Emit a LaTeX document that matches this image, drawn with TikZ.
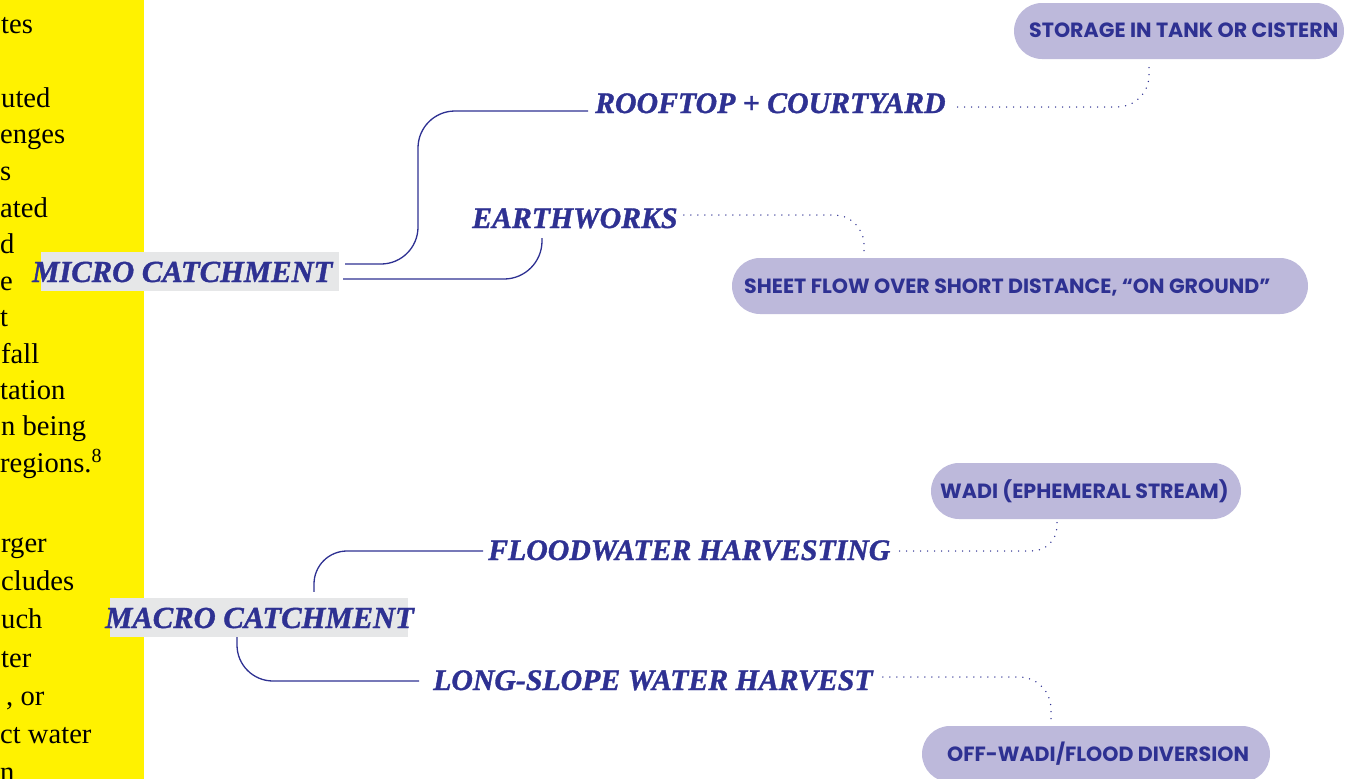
\documentclass[tikz,border=0pt]{standalone}
\usepackage{fontspec}
\setmainfont{Liberation Serif}
\newfontfamily\lblfont[BoldItalicFeatures={FakeBold=1.2}]{Liberation Serif}
\newfontfamily\pillfont{Poppins}
\definecolor{dblue}{HTML}{2E3192}
\definecolor{lav}{HTML}{BDB9DB}
\definecolor{lgray}{HTML}{E6E7E8}
\definecolor{yel}{HTML}{FFF200}
\begin{document}
\begin{tikzpicture}[x=1pt,y=1pt,
  lbl/.style={inner sep=0pt, anchor=base west, text=dblue, font=\lblfont\fontsize{29.8}{30}\selectfont\bfseries\itshape},
  biglbl/.style={lbl, font=\lblfont\fontsize{30.6}{31}\selectfont\bfseries\itshape},
  bodytxt/.style={inner sep=0pt, anchor=base west, text=black, font=\fontsize{28.6}{29}\selectfont},
  pill/.style={fill=lav, rounded corners=28pt, minimum height=56pt, inner sep=0pt},
  pilltext/.style={inner sep=0pt, anchor=base west, text=dblue, font=\pillfont\fontsize{20.6}{21}\selectfont\bfseries},
  conn/.style={draw=dblue, line width=1.3pt},
  dots/.style={draw=dblue, line width=1.5pt, line cap=round, dash pattern=on 0pt off 7pt},
  greybox/.style={fill=lgray, inner sep=0pt, minimum height=39pt, minimum width=298pt}]
\useasboundingbox (0,0) rectangle (1353,-779);
\clip (0,0) rectangle (1353,-779);
\fill[yel] (0,0) rectangle (144,-779);
% body text fragments
\node[bodytxt] (b1) at (1,-33) {tes};
\node[bodytxt] (b2) at (1,-107) {uted};
\node[bodytxt] (b3) at (0,-143) {enges};
\node[bodytxt] (b4) at (0,-180) {s};
\node[bodytxt] (b5) at (0,-217) {ated};
\node[bodytxt] (b6) at (0,-253) {d};
\node[bodytxt] (b7) at (0,-290) {e};
\node[bodytxt] (b8) at (0,-326) {t};
\node[bodytxt] (b9) at (1,-363) {fall};
\node[bodytxt] (b10) at (0,-399) {tation};
\node[bodytxt] (b11) at (1,-435) {n being};
\node[bodytxt] (b12) at (0,-472) {regions.\textsuperscript{8}};
\node[bodytxt] (b13) at (1,-552) {rger};
\node[bodytxt] (b14) at (1,-590) {cludes};
\node[bodytxt] (b15) at (1,-628) {uch};
\node[bodytxt] (b16) at (1,-667) {ter};
\node[bodytxt] (b17) at (6,-705) {, or};
\node[bodytxt] (b18) at (0,-743) {ct water};
\node[bodytxt] (b19) at (0,-781) {n};
% main labels
\node[greybox] (microbox) at (190,-271.5) {};
\node[biglbl] (micro) at (32,-282) {MICRO CATCHMENT};
\node[greybox] (macbox) at (259,-617.5) {};
\node[biglbl] (macro) at (105,-628) {MACRO CATCHMENT};
% branch labels
\node[lbl] (roof) at (595,-113) {ROOFTOP + COURTYARD};
\node[lbl] (earth) at (472,-228) {EARTHWORKS};
\node[lbl] (flood) at (488,-560) {FLOODWATER HARVESTING};
\node[lbl] (long) at (433,-690) {LONG-SLOPE WATER HARVEST};
% pills
\node[pill, minimum width=330pt] (storage) at (1179,-31) {};
\node[pilltext] (storagetxt) at (1029,-37) {STORAGE IN TANK OR CISTERN};
\node[pill, minimum width=576pt] (sheet) at (1020,-286) {};
\node[pilltext] (sheettxt) at (744,-293) {SHEET FLOW OVER SHORT DISTANCE, “ON GROUND”};
\node[pill, minimum width=310pt] (wadi) at (1086,-491) {};
\node[pilltext] (waditxt) at (940,-498) {WADI (EPHEMERAL STREAM)};
\node[pill, minimum width=348pt] (offw) at (1096,-754) {};
\node[pilltext] (offwtxt) at (947,-761) {OFF-WADI/FLOOD DIVERSION};
% solid connectors
\draw[conn, rounded corners=37pt] ([shift={(6,7.5)}]microbox.east) -| ([shift={(-177,2)}]roof.base west) -- ([shift={(-7,2)}]roof.base west);
\draw[conn, rounded corners=38pt] ([shift={(4,-7.5)}]microbox.east) -| ([shift={(70,-10)}]earth.base west);
\draw[conn, rounded corners=33pt] ([shift={(55,6)}]macbox.north) |- ([shift={(-5,9)}]flood.base west);
\draw[conn, rounded corners=36pt] ([shift={(-22,0)}]macbox.south) |- ([shift={(-14,9)}]long.base west);
% dotted connectors
\draw[dots, rounded corners=32pt] ([shift={(12,6)}]roof.base east) -| ([shift={(-30,-6)}]storage.south);
\draw[dots, rounded corners=30pt] ([shift={(6,13)}]earth.base east) -| ([shift={(-156,5)}]sheet.north);
\draw[dots, rounded corners=25pt] ([shift={(9,9)}]flood.base east) -| ([shift={(-29,-2)}]wadi.south);
\draw[dots, rounded corners=32pt] ([shift={(10,13)}]long.base east) -| ([shift={(-45,6)}]offw.north);
\end{tikzpicture}
\end{document}
